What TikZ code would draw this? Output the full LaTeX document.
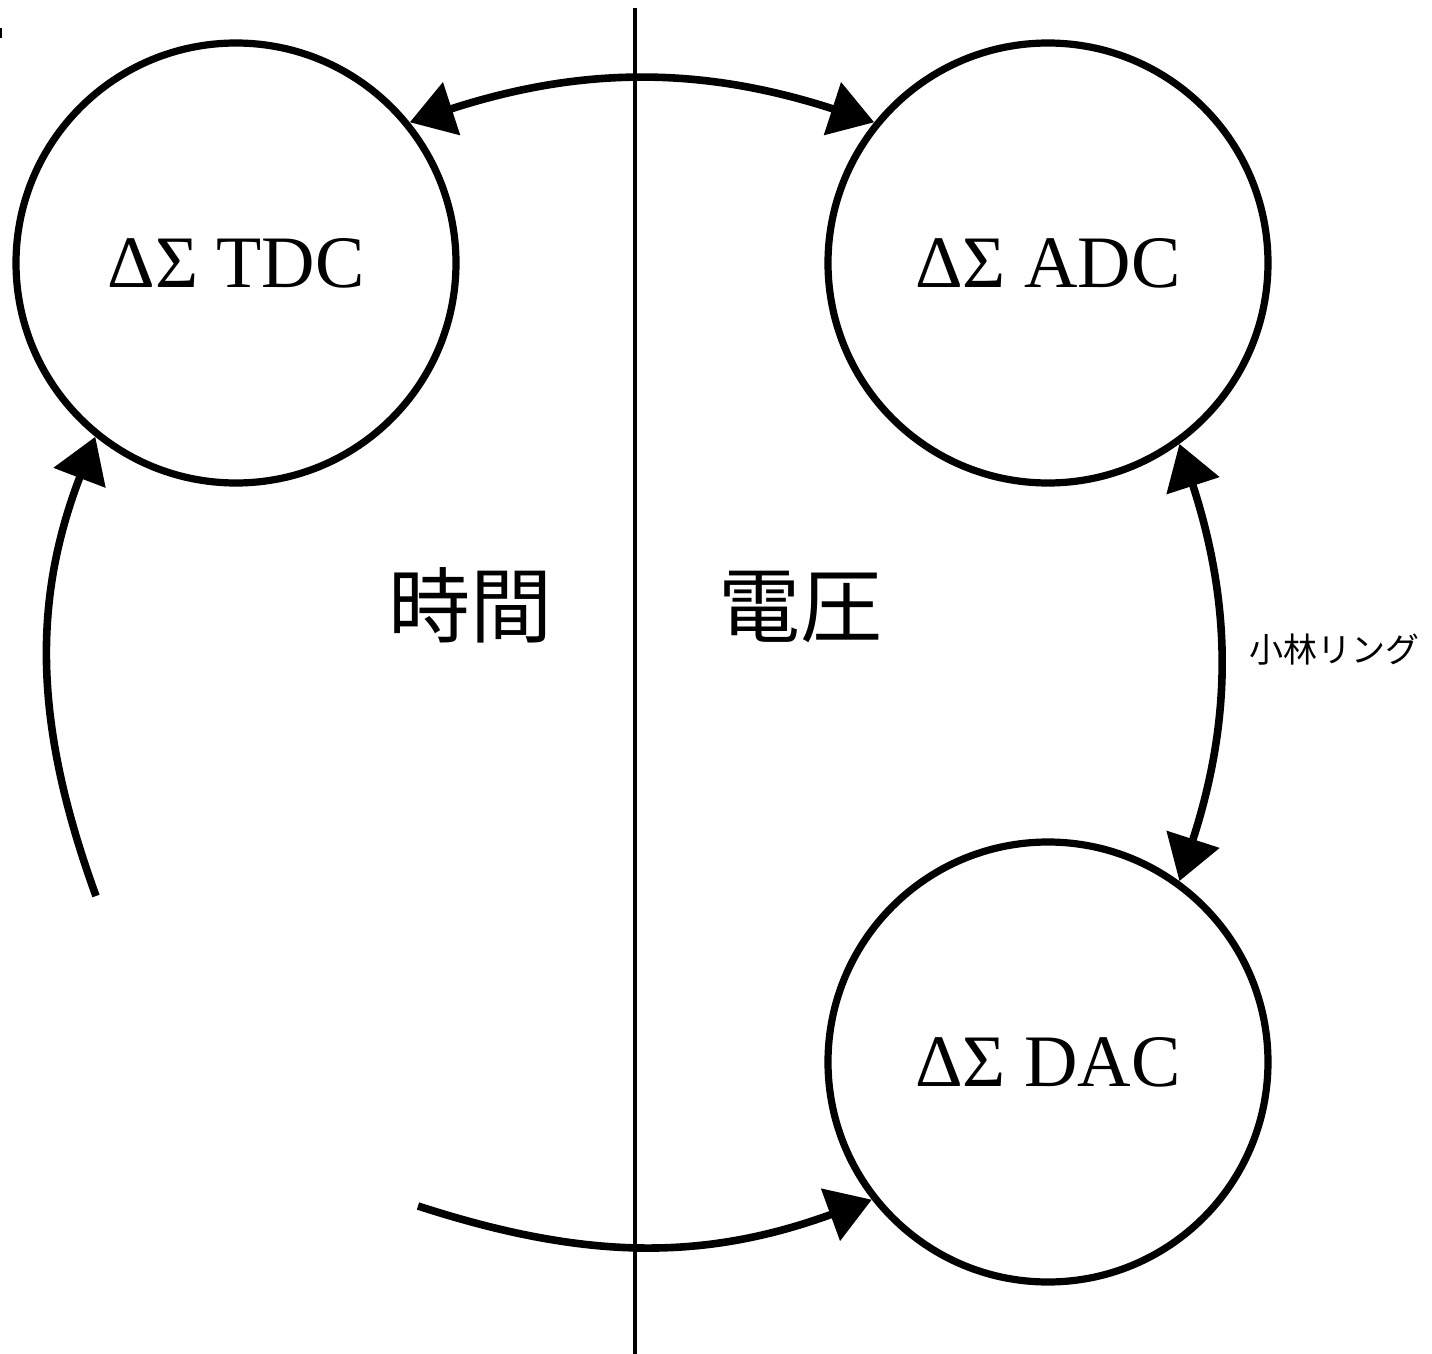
\documentclass[tikz,border=0pt]{standalone}
\usepackage{fontspec}
\setmainfont{Liberation Serif}
\newfontfamily\jpfont{Noto Sans CJK JP}
\usetikzlibrary{arrows.meta}
\usetikzlibrary{positioning}

\tikzset{
  conv/.style={circle, draw, line width=3.6pt, minimum size=220pt, inner sep=0pt,
    font=\fontsize{37}{40}\selectfont},
  link/.style={line width=3.8pt},
  quantity/.style={font=\jpfont\fontsize{41}{45}\selectfont},
}

\begin{document}
\begin{tikzpicture}[x=0.5pt,y=0.5pt,>={Triangle[length=22pt,width=27pt]}]
        \useasboundingbox (0,0) rectangle (1432,-1354);

        % Nodes
        \node[conv]               (tdc) at (236,-263)  {ΔΣ TDC};
        \node[conv]               (adc) at (1048,-263) {ΔΣ ADC};
        \node[conv]               (dac) at (1048,-1062) {ΔΣ DAC};

        \node[quantity]           (jikan) at (470,-605) {時間};
        \node[quantity]           (denatsu) at (800,-607) {電圧};
        \node[font=\jpfont\fontsize{17}{20}\selectfont] (kobayashi) at (1334,-650) {小林リング};

        \coordinate (divtop) at (635,-8);
        \coordinate (divbot) at (635,-1354);
        \coordinate (ltail) at (96,-896);
        \coordinate (btail) at (418,-1206);

        % Edges
        \draw[line width=2pt] (divtop) -- (divbot);
        \draw[link, <->] (tdc.39) to[out=18, in=162] (adc.141);
        \draw[link, <->] (adc.-54) to[out=-72, in=72] (dac.54);
        \draw[link, ->] (ltail) to[out=110, in=-111] (tdc.231);
        \draw[link, ->] (btail) to[out=-18, in=200] (dac.218);

        \fill (0,-28) rectangle (2,-38);
    \end{tikzpicture}
\end{document}
